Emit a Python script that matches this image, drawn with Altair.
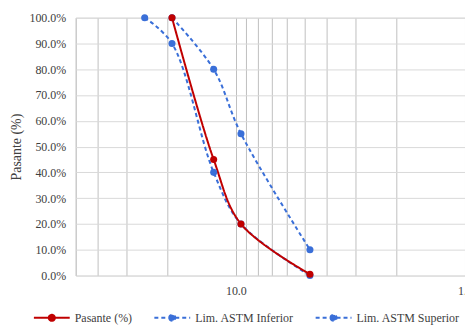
import altair as alt
import pandas as pd

# Sieve sizes (mm) and passing percentages
tamiz_pasante = [19.0, 12.5, 9.5, 4.75]
pasante = [1.00, 0.45, 0.20, 0.005]

tamiz_inf = [25.0, 19.0, 12.5, 9.5, 4.75]
lim_inf = [1.00, 0.90, 0.40, 0.20, 0.00]

tamiz_sup = [19.0, 12.5, 9.5, 4.75]
lim_sup = [1.00, 0.80, 0.55, 0.10]

series = ["Pasante (%)", "Lim. ASTM Inferior", "Lim. ASTM Superior"]
colors = ["#c00000", "#3a6fd8", "#3a6fd8"]
dashes = [[1, 0], [4, 3], [4, 3]]

grid_x = [1, 2, 3, 4, 5, 6, 7, 8, 9, 10, 20, 30, 40, 50]
y_ticks = [0, 0.1, 0.2, 0.3, 0.4, 0.5, 0.6, 0.7, 0.8, 0.9, 1.0]

rows = []
for t, v in zip(tamiz_inf, lim_inf):
    rows.append({"tamiz": t, "valor": v, "serie": series[1], "k": 0})
for t, v in zip(tamiz_sup, lim_sup):
    rows.append({"tamiz": t, "valor": v, "serie": series[2], "k": 1})
for t, v in zip(tamiz_pasante, pasante):
    rows.append({"tamiz": t, "valor": v, "serie": series[0], "k": 2})
df = pd.DataFrame(rows)

FONT = "Times New Roman, Liberation Serif, serif"
TXT = "#404040"

sym = "M-1,0L1,0M-0.17,0A0.17,0.17 0 1 1 0.17,0A0.17,0.17 0 1 1 -0.17,0Z"
leg = alt.Legend(
    orient="none", legendX=-43, legendY=282, direction="horizontal",
    title=None, symbolType=sym, symbolSize=1296, symbolStrokeWidth=2,
    labelFont=FONT, labelFontSize=12, labelColor=TXT, labelOffset=4,
    columnPadding=18, padding=0,
)

x = alt.X(
    "tamiz:Q",
    scale=alt.Scale(type="log", domain=[1, 50], reverse=True, nice=False),
    axis=alt.Axis(
        values=grid_x, title=None, ticks=False, domain=False,
        gridColor="#bfbfbf", gridWidth=1,
        labelExpr="datum.value == 10 || datum.value == 1 ? format(datum.value, '.1f') : ''",
        labelFont=FONT, labelFontSize=12, labelColor=TXT, labelPadding=10,
        labelFlush=False, labelOverlap=False,
    ),
)
y = alt.Y(
    "valor:Q",
    scale=alt.Scale(domain=[0, 1], nice=False),
    axis=alt.Axis(
        values=y_ticks, format=".1%", title="Pasante (%)", ticks=False,
        domain=False, gridColor="#d9d9d9", gridWidth=1,
        labelFont=FONT, labelFontSize=12, labelColor=TXT, labelPadding=10,
        titleFont=FONT, titleFontSize=14, titleColor=TXT, titleFontWeight="normal",
        titleAngle=-90, titleX=-59, titleY=129.5, titleAlign="center",
        titleBaseline="middle",
    ),
)
color = alt.Color("serie:N", scale=alt.Scale(domain=series, range=colors), legend=leg)
dash = alt.StrokeDash("serie:N", scale=alt.Scale(domain=series, range=dashes), legend=leg)

lines = alt.Chart(df).mark_line(interpolate="catmull-rom", strokeWidth=2).encode(
    x=x, y=y, color=color, strokeDash=dash, detail="k:N"
)
points = alt.Chart(df).mark_point(filled=True, size=50, opacity=1).encode(
    x=x, y=y, color=color
)

chart = alt.layer(lines, points).properties(
    width=391, height=259,
    autosize=alt.AutoSizeParams(type="none"),
    padding={"left": 68, "top": 9, "right": 0, "bottom": 49},
).configure(font=FONT).configure_axis(
    labelFont=FONT, titleFont=FONT
).configure_legend(labelFont=FONT).configure_view(stroke="#d9d9d9", strokeWidth=1)

chart.save("out.html", embed_options={"renderer": "svg", "actions": False})
